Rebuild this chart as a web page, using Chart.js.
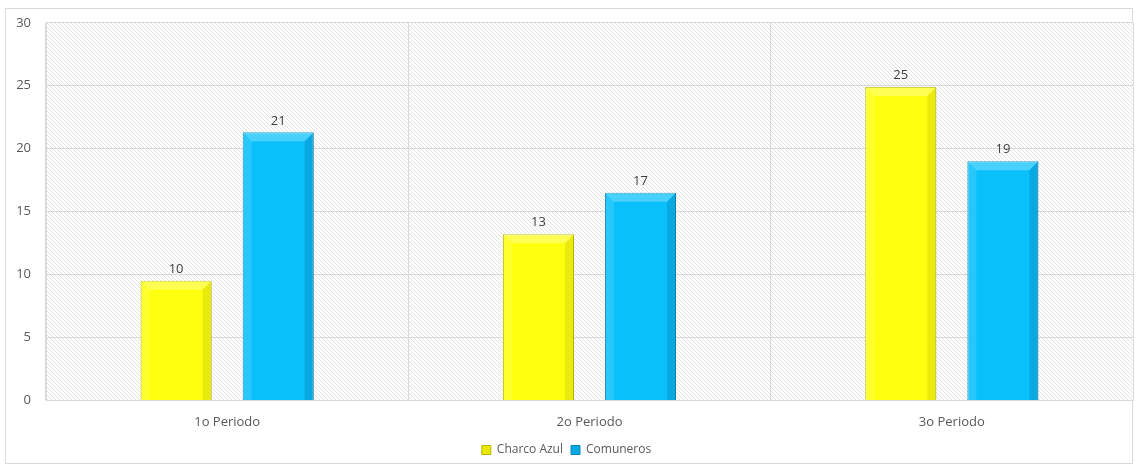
<!DOCTYPE html>
<html>
<head>
<meta charset="utf-8">
<script src="https://cdn.jsdelivr.net/npm/chart.js@4.4.0/dist/chart.umd.min.js"></script>
<style>
  body { margin: 0; background: #fff; }
  #wrap { width: 1138px; height: 466px; }
</style>
</head>
<body>
<div id="wrap"><canvas id="grafico" width="1138" height="466"></canvas></div>
<script>
// --- datos ---
const periodos = ["1o Periodo", "2o Periodo", "3o Periodo"];
const charcoAzul = [9.5, 13.2, 24.9];
const comuneros = [21.3, 16.5, 19.0];
const ticksY = [0, 5, 10, 15, 20, 25, 30];

const fuente = "'Open Sans', sans-serif";

// patrón rayado del área de trazado
function crearRayado() {
    const c = document.createElement("canvas");
    c.width = 4; c.height = 4;
    const g = c.getContext("2d");
    g.fillStyle = "#ffffff";
    g.fillRect(0, 0, 4, 4);
    g.strokeStyle = "#e2e2e2";
    g.lineWidth = 1;
    g.beginPath();
    g.moveTo(0, 0); g.lineTo(4, 4);
    g.moveTo(-1, 3); g.lineTo(1, 5);
    g.moveTo(3, -1); g.lineTo(5, 1);
    g.stroke();
    return c;
}

const fondo = {
    id: "fondo",
    beforeDraw(chart) {
        const ctx = chart.ctx;
        const a = chart.chartArea;
        ctx.save();
        ctx.strokeStyle = "#d9d9d9";
        ctx.lineWidth = 1;
        ctx.strokeRect(5.5, 8.5, 1127, 455);
        ctx.fillStyle = ctx.createPattern(crearRayado(), "repeat");
        ctx.fillRect(a.left, a.top, a.right - a.left, a.bottom - a.top);
        ctx.restore();
    }
};

// biselado de las barras + etiquetas de valor
const bisel = {
    id: "bisel",
    afterDatasetsDraw(chart) {
        const ctx = chart.ctx;
        const colores = [
            { luz: "rgba(255,255,210,0.35)", sombra: "rgba(140,140,0,0.18)" },
            { luz: "rgba(190,240,255,0.35)", sombra: "rgba(0,60,110,0.18)" }
        ];
        chart.data.datasets.forEach((ds, i) => {
            const meta = chart.getDatasetMeta(i);
            meta.data.forEach((bar, j) => {
                const l = bar.x - bar.width / 2, r = bar.x + bar.width / 2;
                const t = bar.y, b = bar.base, s = 9;
                ctx.save();
                ctx.fillStyle = colores[i].luz;
                ctx.beginPath();
                ctx.moveTo(l, t); ctx.lineTo(r, t); ctx.lineTo(r - s, t + s); ctx.lineTo(l + s, t + s);
                ctx.closePath(); ctx.fill();
                ctx.fillStyle = colores[i].sombra;
                ctx.beginPath();
                ctx.moveTo(r, t); ctx.lineTo(r, b); ctx.lineTo(r - s, b); ctx.lineTo(r - s, t + s);
                ctx.closePath(); ctx.fill();
                ctx.fillStyle = "rgba(255,255,255,0.12)";
                ctx.beginPath();
                ctx.moveTo(l, t); ctx.lineTo(l + s, t + s); ctx.lineTo(l + s, b); ctx.lineTo(l, b);
                ctx.closePath(); ctx.fill();

                ctx.fillStyle = "#404040";
                ctx.font = "13px " + fuente;
                ctx.textAlign = "center";
                ctx.textBaseline = "bottom";
                ctx.fillText(Math.round(ds.data[j]), bar.x, t - 5);
                ctx.restore();
            });
        });
    }
};

function degradado(ctx, c1, c2, c3) {
    const area = ctx.chart.chartArea;
    const el = ctx.element;
    if (!area || !el || el.width === undefined) return c2;
    const x0 = el.x - el.width / 2, x1 = el.x + el.width / 2;
    const g = ctx.chart.ctx.createLinearGradient(x0, 0, x1, 0);
    g.addColorStop(0, c1);
    g.addColorStop(0.45, c2);
    g.addColorStop(1, c3);
    return g;
}

new Chart(document.getElementById("grafico"), {
    type: "bar",
    data: {
        labels: periodos,
        datasets: [{
            label: "Charco Azul",
            data: charcoAzul,
            backgroundColor: c => degradado(c, "#f0f000", "#ffff10", "#e8e800"),
            borderColor: "#b8b800",
            borderWidth: 1,
            categoryPercentage: 0.5635,
            barPercentage: 0.696
        }, {
            label: "Comuneros",
            data: comuneros,
            backgroundColor: c => degradado(c, "#10b8f2", "#0ac0fa", "#05aae4"),
            borderColor: "#0a86b5",
            borderWidth: 1,
            categoryPercentage: 0.5635,
            barPercentage: 0.696
        }]
    },
    options: {
        responsive: false,
        animation: false,
        layout: { padding: { top: 19, right: 5, left: 0, bottom: 0 } },
        plugins: {
            tooltip: { enabled: false },
            legend: {
                position: "bottom",
                labels: {
                    boxWidth: 9, boxHeight: 9,
                    color: "#595959",
                    font: { family: fuente, size: 12 },
                    padding: 8
                }
            }
        },
        scales: {
            x: {
                afterFit: s => { s.height = s.height - 8; },
                grid: { color: "#d9d9d9", drawTicks: false, offset: true },
                border: { color: "#d9d9d9" },
                ticks: { color: "#595959", font: { family: fuente, size: 13 }, padding: 14 }
            },
            y: {
                min: 0, max: 30,
                afterBuildTicks: s => { s.ticks = ticksY.map(v => ({ value: v })); },
                afterFit: s => { s.width = 46; },
                grid: { color: "#d9d9d9", drawTicks: false },
                border: { color: "#d9d9d9" },
                ticks: { color: "#595959", font: { family: fuente, size: 13 }, padding: 15 }
            }
        }
    },
    plugins: [fondo, bisel]
});
</script>
</body>
</html>
